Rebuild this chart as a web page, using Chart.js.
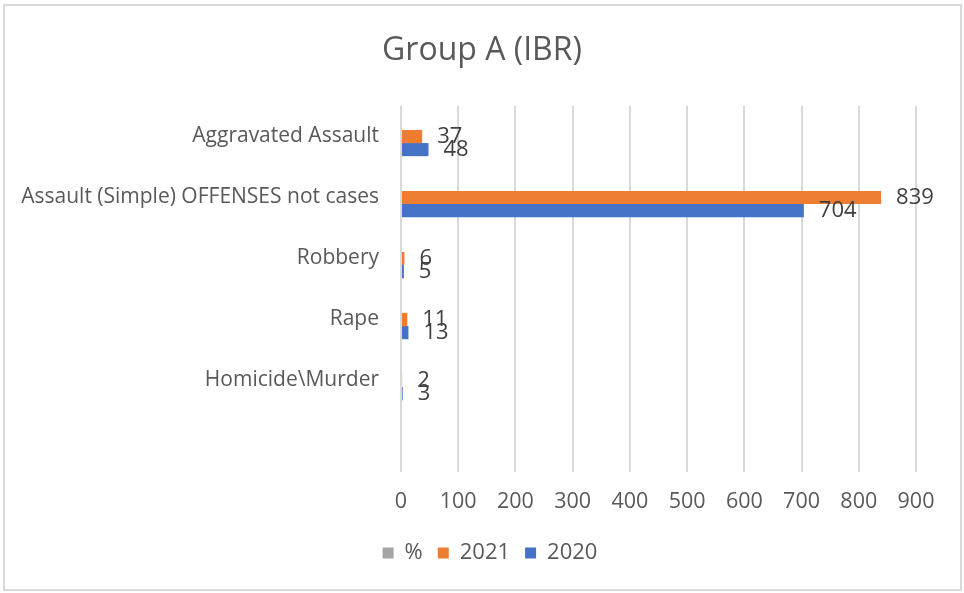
<!DOCTYPE html>
<html>
<head>
<meta charset="utf-8">
<script src="https://cdn.jsdelivr.net/npm/chart.js@4/dist/chart.umd.min.js"></script>
<style>
  html, body { margin: 0; padding: 0; background: #fff; overflow: hidden; }
  #wrap { position: relative; width: 964px; height: 593px; }
</style>
</head>
<body>
<div id="wrap"><canvas id="c"></canvas></div>
<script>
const categories = ["Aggravated Assault", "Assault (Simple) OFFENSES not cases", "Robbery", "Rape", "Homicide\\Murder", ""];
const seriesNames = ["%", "2021", "2020"];
const valuesPct = [null, null, null, null, null, null];
const values2021 = [37, 839, 6, 11, 2, null];
const values2020 = [48, 704, 5, 13, 3, null];
const xTicks = [0, 100, 200, 300, 400, 500, 600, 700, 800, 900];

const FONT = "'Open Sans', 'Segoe UI', sans-serif";

const borderPlugin = {
  id: 'outerBorder',
  beforeDraw(chart) {
    const ctx = chart.ctx;
    ctx.save();
    ctx.fillStyle = '#fff';
    ctx.fillRect(0, 0, chart.width, chart.height);
    ctx.strokeStyle = '#d9d9d9';
    ctx.lineWidth = 2;
    ctx.strokeRect(4, 5, chart.width - 7, chart.height - 8);
    ctx.restore();
  }
};

const legendShift = {
  id: 'legendShift',
  afterLayout(chart) {
    if (chart.legend) { chart.legend.left += 16; }
  }
};

const valueLabels = {
  id: 'valueLabels',
  afterDatasetsDraw(chart) {
    const ctx = chart.ctx;
    ctx.save();
    ctx.font = "22px " + FONT;
    ctx.fillStyle = '#404040';
    ctx.textAlign = 'left';
    ctx.textBaseline = 'middle';
    chart.data.datasets.forEach((ds, i) => {
      const meta = chart.getDatasetMeta(i);
      meta.data.forEach((el, j) => {
        const v = ds.data[j];
        if (v === null || v === undefined) return;
        ctx.fillText(String(v), el.x + 15, el.y);
      });
    });
    ctx.restore();
  }
};

new Chart(document.getElementById('c'), {
  type: 'bar',
  data: {
    labels: categories,
    datasets: [
      { label: seriesNames[0], data: valuesPct, backgroundColor: '#A5A5A5', borderWidth: 0 },
      { label: seriesNames[1], data: values2021, backgroundColor: '#ED7D31', borderWidth: 0 },
      { label: seriesNames[2], data: values2020, backgroundColor: '#4472C4', borderWidth: 0 }
    ]
  },
  options: {
    indexAxis: 'y',
    responsive: true,
    maintainAspectRatio: false,
    animation: false,
    categoryPercentage: 0.645,
    barPercentage: 1.0,
    layout: { padding: { left: 0, right: 0, top: 0, bottom: 19 } },
    plugins: {
      title: {
        display: true,
        text: 'Group A (IBR)',
        color: '#595959',
        font: { family: FONT, size: 32, weight: 'normal' },
        padding: { top: 32, bottom: 35.6 }
      },
      legend: {
        position: 'bottom',
        labels: {
          color: '#595959',
          font: { family: FONT, size: 22 },
          boxWidth: 11,
          boxHeight: 11,
          padding: 15
        }
      },
      tooltip: { enabled: false }
    },
    scales: {
      x: {
        min: 0,
        max: 900,
        afterBuildTicks(scale) { scale.ticks = xTicks.map(v => ({ value: v })); },
        grid: { color: '#d9d9d9', lineWidth: 2, drawTicks: false },
        border: { display: false },
        ticks: { color: '#595959', font: { family: FONT, size: 21.5 }, padding: 17 },
        afterFit(scale) { scale.height = 55; }
      },
      y: {
        grid: { display: false, drawTicks: false },
        border: { display: false },
        ticks: { color: '#595959', font: { family: FONT, size: 21 }, padding: 22 },
        afterFit(scale) { scale.width = 401; }
      },
      rightSpace: {
        type: 'linear',
        axis: 'y',
        position: 'right',
        display: true,
        grid: { display: false, drawTicks: false },
        border: { display: false },
        ticks: { display: false },
        afterFit(scale) { scale.width = 48; }
      }
    }
  },
  plugins: [borderPlugin, legendShift, valueLabels]
});
</script>
</body>
</html>
